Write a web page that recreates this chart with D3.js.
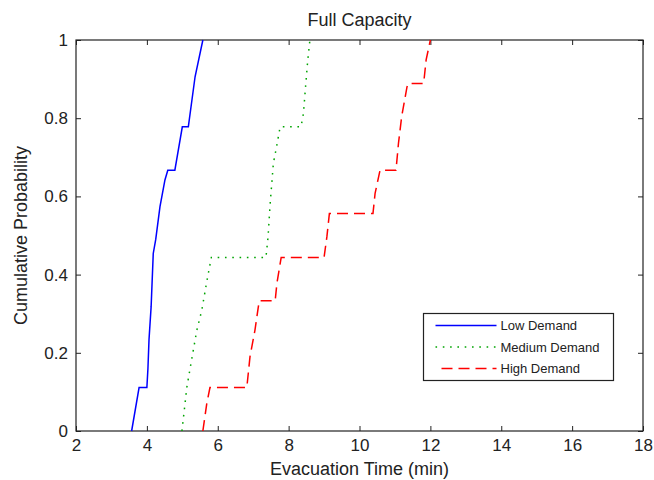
<!DOCTYPE html>
<html>
<head>
<meta charset="utf-8">
<script src="https://cdn.jsdelivr.net/npm/d3@7"></script>
<style>
    body { margin: 0; background: #fff; }
    text { font-family: "Liberation Sans", Arial, sans-serif; fill: #222; }
</style>
</head>
<body>
<div class="chart"></div>
<script>
const lowDemand = [
    [3.57, 0], [3.78, 0.111], [4.0, 0.111], [4.03, 0.16], [4.06, 0.233], [4.12, 0.318],
    [4.18, 0.454], [4.25, 0.49], [4.37, 0.574], [4.51, 0.642], [4.59, 0.667], [4.79, 0.667],
    [5.0, 0.778], [5.17, 0.778], [5.36, 0.906], [5.58, 1]
];
const mediumDemand = [
    [4.99, 0], [5.13, 0.113], [5.27, 0.186], [5.41, 0.258], [5.55, 0.309], [5.69, 0.382],
    [5.82, 0.444], [7.36, 0.444], [7.42, 0.497], [7.48, 0.583], [7.57, 0.685], [7.66, 0.727],
    [7.76, 0.778], [8.35, 0.778], [8.42, 0.813], [8.47, 0.872], [8.54, 0.949], [8.6, 1]
];
const highDemand = [
    [5.58, 0], [5.69, 0.07], [5.78, 0.111], [6.82, 0.111], [6.91, 0.19], [7.05, 0.258],
    [7.17, 0.333], [7.62, 0.333], [7.67, 0.378], [7.79, 0.444], [9.0, 0.444], [9.08, 0.497],
    [9.15, 0.556], [10.38, 0.556], [10.44, 0.608], [10.58, 0.667], [11.03, 0.667], [11.1, 0.736],
    [11.19, 0.804], [11.34, 0.88], [11.38, 0.889], [11.81, 0.889], [11.88, 0.949], [12.0, 1]
];
const seriesNames = ["Low Demand", "Medium Demand", "High Demand"];
const xTicks = [2, 4, 6, 8, 10, 12, 14, 16, 18];
const yTicks = [0, 0.2, 0.4, 0.6, 0.8, 1];

const width = 654, height = 480;
const box = {left: 76, right: 643, top: 40, bottom: 431};

const styles = [
    {color: "#0000ff", dash: null},
    {color: "#00a400", dash: "1.6,5.7"},
    {color: "#ff0000", dash: "11,6"}
];

const svg = d3.select(".chart").append("svg")
    .attr("width", width)
    .attr("height", height);

const x = d3.scaleLinear().domain([2, 18]).range([box.left, box.right]);
const y = d3.scaleLinear().domain([0, 1]).range([box.bottom, box.top]);

// axes, MATLAB style: inward ticks mirrored on all four sides
const fmtY = d => d === 0 || d === 1 ? String(d) : d3.format(".1f")(d);

svg.append("g")
    .attr("transform", `translate(0,${box.bottom})`)
    .call(d3.axisBottom(x).tickValues(xTicks).tickSize(-5).tickSizeOuter(0).tickPadding(8))
    .call(g => g.selectAll("text").style("font-size", "17px"));
svg.append("g")
    .attr("transform", `translate(0,${box.top})`)
    .call(d3.axisTop(x).tickValues(xTicks).tickSize(-5).tickSizeOuter(0).tickFormat(""));
svg.append("g")
    .attr("transform", `translate(${box.left},0)`)
    .call(d3.axisLeft(y).tickValues(yTicks).tickSize(-5).tickSizeOuter(0).tickPadding(8).tickFormat(fmtY))
    .call(g => g.selectAll("text").style("font-size", "17px"));
svg.append("g")
    .attr("transform", `translate(${box.right},0)`)
    .call(d3.axisRight(y).tickValues(yTicks).tickSize(-5).tickSizeOuter(0).tickFormat(""));

svg.selectAll(".domain").attr("stroke", "none");
svg.selectAll(".tick line").attr("stroke", "#222");
svg.selectAll(".tick text").attr("fill", "#222");

svg.append("rect")
    .attr("x", box.left).attr("y", box.top)
    .attr("width", box.right - box.left).attr("height", box.bottom - box.top)
    .attr("fill", "none").attr("stroke", "#222").attr("stroke-width", 1.2);

// curves
const line = d3.line().x(d => x(d[0])).y(d => y(d[1]));
[lowDemand, mediumDemand, highDemand].forEach((data, i) => {
    svg.append("path")
        .datum(data)
        .attr("d", line)
        .attr("fill", "none")
        .attr("stroke", styles[i].color)
        .attr("stroke-width", 1.5)
        .attr("stroke-dasharray", styles[i].dash);
});

// titles
svg.append("text")
    .attr("x", (box.left + box.right) / 2).attr("y", 26)
    .attr("text-anchor", "middle").style("font-size", "18px")
    .text("Full Capacity");
svg.append("text")
    .attr("x", (box.left + box.right) / 2).attr("y", 475)
    .attr("text-anchor", "middle").style("font-size", "18px")
    .text("Evacuation Time (min)");
svg.append("text")
    .attr("transform", `translate(27,${(box.top + box.bottom) / 2}) rotate(-90)`)
    .attr("text-anchor", "middle").style("font-size", "18px")
    .text("Cumulative Probability");

// legend
const legend = svg.append("g").attr("transform", "translate(423.5,313.5)");
legend.append("rect")
    .attr("width", 190).attr("height", 67)
    .attr("fill", "#fff").attr("stroke", "#222").attr("stroke-width", 1.2);
const rows = legend.selectAll(".row")
    .data(seriesNames).enter()
    .append("g")
    .attr("transform", (d, i) => `translate(0,${12 + i * 21.5})`);
rows.append("line")
    .attr("x1", (d, i) => i === 2 ? 18 : 12).attr("x2", 73)
    .attr("stroke", (d, i) => styles[i].color)
    .attr("stroke-width", 1.5)
    .attr("stroke-dasharray", (d, i) => styles[i].dash);
rows.append("text")
    .attr("x", 77).attr("dy", "0.35em")
    .style("font-size", "13px")
    .text(d => d);
</script>
</body>
</html>
